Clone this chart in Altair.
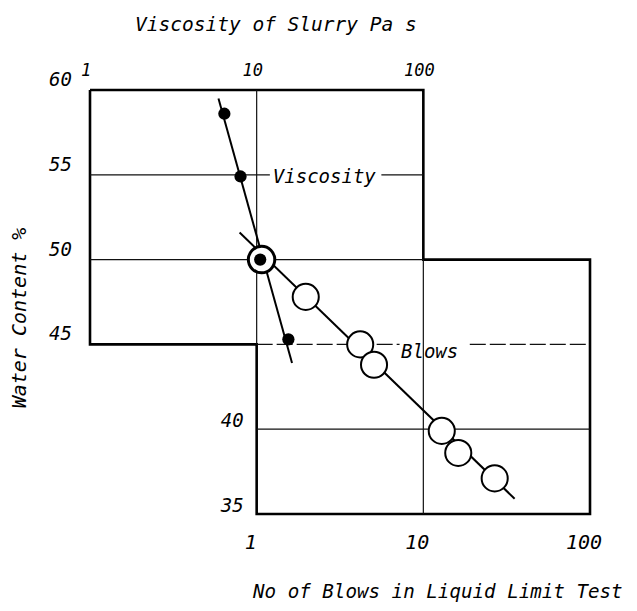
import altair as alt
import pandas as pd

# ---- data ----
# Viscosity of slurry (Pa s) against water content (%)
visc_pas = [6.4, 8.0, 10.5, 15.5]
visc_w = [58.6, 54.9, 50.0, 45.3]
# Liquid limit test: number of blows against water content (%)
blows_n = [1.07, 1.97, 4.18, 5.06, 12.9, 16.2, 26.8]
blows_w = [50.0, 47.8, 45.0, 43.8, 39.9, 38.6, 37.1]
# fitted straight lines (end points)
visc_fit_pas = [5.9, 16.3]
visc_fit_w = [59.5, 43.9]
blows_fit_n = [0.79, 35.3]
blows_fit_w = [51.6, 35.9]

# tick labels
visc_ticks = [1, 10, 100]
blows_ticks = [1, 10, 100]
w_ticks_upper = [60, 55, 50, 45]
w_ticks_lower = [40, 35]

# titles
top_title = "Viscosity of Slurry  Pa s"
bottom_title = "No of Blows in Liquid Limit Test"
left_title = "Water Content %"

# the blows scale is drawn one decade to the right of the viscosity scale
SHIFT = 10

# stepped frame (viscosity units / water content)
frame_pos = [1, 100, 100, 1000, 1000, 10, 10, 1, 1]
frame_w = [60, 60, 50, 50, 35, 35, 45, 45, 60]

# grid segments (x from, x to, w from, w to)
grid_x = [1, 56, 1, 10, 10, 100]
grid_x2 = [12, 100, 100, 1000, 10, 100]
grid_y = [55, 55, 50, 40, 45, 35]
grid_y2 = [55, 55, 50, 40, 60, 50]
dash_x = [10, 190]
dash_x2 = [72, 1000]
dash_y = [45, 45]

# series labels
lab_text = ["Viscosity", "Blows"]
lab_pos = [12.5, 73.5]
lab_w = [55, 45]
lab_dy = [2, 8]

FONT = "DejaVu Sans Mono"
XS = alt.Scale(type="log", domain=[1, 1000], nice=False)
YS = alt.Scale(domain=[35, 60], nice=False, zero=False)


def xenc(field="pos"):
    return alt.X(f"{field}:Q", scale=XS, axis=None)


def yenc(field="w"):
    return alt.Y(f"{field}:Q", scale=YS, axis=None)


frame_df = pd.DataFrame({"pos": frame_pos, "w": frame_w, "i": list(range(len(frame_pos)))})
frame = alt.Chart(frame_df).mark_line(color="black", strokeWidth=2.6, strokeJoin="miter").encode(
    x=xenc(), y=yenc(), order="i:Q",
)

grid_df = pd.DataFrame({"x": grid_x, "x2": grid_x2, "y": grid_y, "y2": grid_y2})
grid = alt.Chart(grid_df).mark_rule(color="#111", strokeWidth=1.2).encode(
    x=xenc("x"), x2="x2:Q", y=yenc("y"), y2="y2:Q",
)
dash_df = pd.DataFrame({"x": dash_x, "x2": dash_x2, "y": dash_y})
dash = alt.Chart(dash_df).mark_rule(color="#111", strokeWidth=1.2, strokeDash=[16, 4]).encode(
    x=xenc("x"), x2="x2:Q", y=yenc("y"),
)

vfit = alt.Chart(pd.DataFrame({"pos": visc_fit_pas, "w": visc_fit_w})).mark_line(
    color="black", strokeWidth=2).encode(x=xenc(), y=yenc())

bfit = alt.Chart(pd.DataFrame({"n": blows_fit_n, "w": blows_fit_w})).transform_calculate(
    pos=f"datum.n * {SHIFT}").mark_line(color="black", strokeWidth=2).encode(x=xenc(), y=yenc())

blows_df = pd.DataFrame({"n": blows_n, "w": blows_w, "i": list(range(len(blows_n)))})
bpts = alt.Chart(blows_df).transform_calculate(pos=f"datum.n * {SHIFT}").transform_filter(
    "datum.i > 0").mark_point(shape="circle", fill="white", stroke="black", strokeWidth=2,
                              size=680, opacity=1, fillOpacity=1).encode(x=xenc(), y=yenc())
bring = alt.Chart(blows_df).transform_calculate(pos=f"datum.n * {SHIFT}").transform_filter(
    "datum.i == 0").mark_point(shape="circle", fill="white", stroke="black", strokeWidth=3,
                               size=700, opacity=1, fillOpacity=1).encode(x=xenc(), y=yenc())

vpts = alt.Chart(pd.DataFrame({"pos": visc_pas, "w": visc_w})).mark_circle(
    color="black", size=150, opacity=1).encode(x=xenc(), y=yenc())

txt = dict(font=FONT, fontStyle="italic", color="black", baseline="middle")

top_df = pd.DataFrame({"pos": visc_ticks, "w": [60] * len(visc_ticks), "t": [str(v) for v in visc_ticks]})
top_lab = alt.Chart(top_df).mark_text(align="center", dx=-4, dy=-19, fontSize=17, **txt).encode(
    x=xenc(), y=yenc(), text="t:N")

bot_df = pd.DataFrame({"n": blows_ticks, "w": [35] * len(blows_ticks), "t": [str(v) for v in blows_ticks]})
bot_lab = alt.Chart(bot_df).transform_calculate(pos=f"datum.n * {SHIFT}").mark_text(
    align="center", dx=-6, dy=29, fontSize=20, **txt).encode(x=xenc(), y=yenc(), text="t:N")

lu_df = pd.DataFrame({"pos": [1] * len(w_ticks_upper), "w": w_ticks_upper, "t": [str(v) for v in w_ticks_upper]})
left_up = alt.Chart(lu_df).mark_text(align="right", dx=-18, dy=-10, fontSize=19, **txt).encode(
    x=xenc(), y=yenc(), text="t:N")

ll_df = pd.DataFrame({"pos": [SHIFT] * len(w_ticks_lower), "w": w_ticks_lower, "t": [str(v) for v in w_ticks_lower]})
left_low = alt.Chart(ll_df).mark_text(align="right", dx=-13, dy=-8, fontSize=19, **txt).encode(
    x=xenc(), y=yenc(), text="t:N")

series_lab = []
for t, p, w, d in zip(lab_text, lab_pos, lab_w, lab_dy):
    series_lab.append(
        alt.Chart(pd.DataFrame({"pos": [p], "w": [w], "t": [t]})).mark_text(
            align="left", dy=d, fontSize=19, **txt).encode(x=xenc(), y=yenc(), text="t:N"))

# titles placed around the plot area
t_top = alt.Chart(pd.DataFrame({"t": [top_title]})).mark_text(
    align="left", fontSize=19.5, **txt).encode(x=alt.value(45), y=alt.value(-65), text="t:N")
t_bot = alt.Chart(pd.DataFrame({"t": [bottom_title]})).mark_text(
    align="left", fontSize=19.2, **txt).encode(x=alt.value(163), y=alt.value(502), text="t:N")
t_left = alt.Chart(pd.DataFrame({"t": [left_title]})).mark_text(
    align="center", angle=270, fontSize=20, **txt).encode(x=alt.value(-70), y=alt.value(228), text="t:N")

chart = alt.layer(
    frame, grid, dash, vfit, bfit, bpts, bring, vpts, top_lab, bot_lab, left_up, left_low,
    *series_lab, t_top, t_bot, t_left
).properties(
    width=500, height=424,
    autosize=alt.AutoSizeParams(type="none"),
    padding={"left": 82, "top": 82, "right": 39, "bottom": 89},
    background="white",
).configure_view(stroke=None)

chart.save("out.html", embed_options={"renderer": "svg", "actions": False})
